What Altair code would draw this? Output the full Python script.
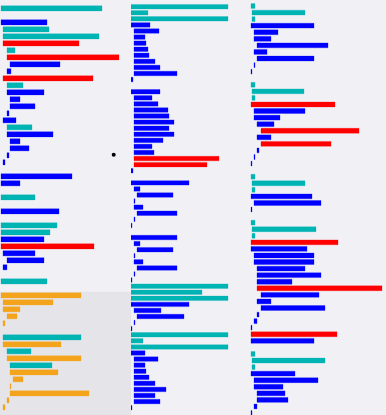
import altair as alt
import pandas as pd

# ---------------- data ----------------
# column 1 (left)
c1_row = [0, 2, 3, 4, 5, 6, 7, 8, 9, 10, 11, 12, 13, 14, 15, 16, 17, 18, 19, 20, 21, 22,
          24, 25, 27, 29, 31, 32, 33, 34, 35, 36, 37, 39,
          41, 42, 43, 44, 45, 47, 48, 49, 50, 51, 52, 53, 54, 55, 56, 57]
c1_start = [1, 1, 3, 3, 3, 7, 7, 10, 7, 3, 7, 7, 10, 10, 7, 3, 7, 7, 10, 10, 7, 3,
            1, 1, 1, 1, 1, 1, 1, 1, 3, 7, 3, 1,
            1, 3, 3, 7, 3, 3, 3, 7, 7, 10, 10, 13, 10, 10, 7, 3]
c1_end = [102, 47, 49, 99, 79, 15, 119, 60, 11, 93, 23, 44, 20, 35, 9, 16, 32, 53, 20, 29, 9, 5,
          72, 20, 35, 59, 57, 50, 44, 94, 35, 44, 7, 47,
          81, 53, 20, 17, 5, 81, 61, 31, 81, 52, 58, 23, 11, 89, 9, 5]
c1_cat = ["T", "B", "T", "T", "R", "T", "R", "B", "B", "R", "T", "B", "B", "B", "B", "B", "T", "B", "B", "B", "B", "B",
          "B", "B", "T", "B", "T", "T", "B", "R", "B", "B", "B", "T",
          "O", "O", "O", "O", "O", "T", "O", "T", "O", "T", "O", "O", "O", "O", "O", "O"]
c1_shaded_from = 41          # first row of the shaded lower section
c1_marker = {"row": 21, "x": 113.7}

# column 2 (middle)
c2_row = list(range(0, 13)) + list(range(14, 28)) + list(range(29, 37)) + list(range(38, 67))
c2_start = [0, 0, 0, 0, 3, 3, 3, 3, 3, 3, 3, 3, 0,
            0, 3, 3, 3, 3, 3, 3, 3, 3, 3, 3, 3, 3, 0,
            0, 3, 6, 3, 3, 6, 3, 0,
            0, 3, 6, 3, 3, 6, 3, 0,
            0, 0, 0, 0, 3, 6, 3, 0,
            0, 0, 0, 0, 3, 3, 3, 3, 3, 3, 3, 3, 0]
c2_end = [97, 17, 97, 19, 28, 14, 15, 17, 18, 24, 29, 46, 2,
          29, 21, 27, 37, 38, 43, 38, 43, 32, 21, 23, 88, 76, 2,
          58, 9, 42, 4, 12, 46, 4, 1,
          46, 9, 42, 4, 12, 46, 4, 1,
          97, 71, 97, 58, 30, 53, 4, 1,
          97, 12, 97, 14, 27, 14, 15, 18, 24, 35, 24, 29, 1]
c2_cat = ["T", "T", "T"] + ["B"] * 10 + \
         ["B"] * 11 + ["R", "R", "B"] + \
         ["B"] * 8 + ["B"] * 8 + \
         ["T", "T", "T"] + ["B"] * 5 + \
         ["T", "T", "T"] + ["B"] * 10

# column 3 (right)
c3_row = list(range(0, 11)) + list(range(12, 25)) + list(range(26, 32)) + list(range(33, 52)) + list(range(53, 63))
c3_start = [1, 2, 2, 1, 4, 4, 7, 4, 7, 4, 1,
            1, 2, 2, 1, 4, 4, 7, 11, 7, 11, 7, 4, 1,
            1, 2, 2, 1, 4, 1,
            1, 2, 2, 1, 1, 4, 4, 7, 7, 7, 7, 11, 7, 11, 7, 4, 1, 1, 1,
            1, 2, 2, 1, 4, 4, 7, 7, 4, 1]
c3_end = [5, 55, 5, 64, 28, 21, 78, 17, 64, 5, 2,
          5, 54, 5, 85, 55, 30, 24, 109, 21, 81, 9, 5, 2,
          5, 55, 5, 62, 71, 2,
          5, 66, 5, 88, 57, 64, 64, 55, 71, 42, 132, 69, 21, 75, 9, 7, 2, 87, 64,
          5, 75, 5, 45, 68, 33, 35, 38, 7, 2]
c3_cat = ["T", "T", "T"] + ["B"] * 8 + \
         ["T", "T", "T", "R", "B", "B", "B", "R", "B", "R", "B", "B", "B"] + \
         ["T", "T", "T", "B", "B", "B"] + \
         ["T", "T", "T", "R", "B", "B", "B", "B", "B", "B", "R", "B", "B", "B", "B", "B", "B", "R", "B"] + \
         ["T", "T", "T"] + ["B"] * 7

CAT_DOMAIN = ["T", "B", "R", "O"]
CAT_RANGE = ["#00b4b4", "#0000ff", "#ff0000", "#f4a41c"]

BG = "#f0f0f5"
SHADE = "#e4e4e9"
H = 415
HALF = 0.37


def panel(rows, starts, ends, cats, width, first_center, pitch, extra=None):
    df = pd.DataFrame({"row": rows, "start": starts, "end": ends, "cat": cats})
    d0 = -first_center / pitch
    d1 = d0 + H / pitch
    yscale = alt.Scale(domain=[d0, d1], reverse=True, nice=False, zero=False)
    xscale = alt.Scale(domain=[0, width], nice=False, zero=False)
    bars = alt.Chart(df).transform_calculate(
        y0=f"datum.row - {HALF}", y1=f"datum.row + {HALF}"
    ).mark_rect(strokeWidth=0.8, strokeOpacity=0.35, clip=True).encode(
        x=alt.X("start:Q", scale=xscale, axis=None),
        x2="end:Q",
        y=alt.Y("y0:Q", scale=yscale, axis=None),
        y2="y1:Q",
        color=alt.Color("cat:N", scale=alt.Scale(domain=CAT_DOMAIN, range=CAT_RANGE), legend=None),
        stroke=alt.Stroke("cat:N", scale=alt.Scale(domain=CAT_DOMAIN, range=CAT_RANGE), legend=None),
    )
    layers = []
    if extra is not None:
        layers.extend(extra(xscale, yscale, d1))
    layers.append(bars)
    return alt.layer(*layers).properties(width=width, height=H)


def col1_extra(xscale, yscale, d1):
    shade_df = pd.DataFrame({"from": [c1_shaded_from - 0.5], "to": [d1]})
    shade = alt.Chart(shade_df).mark_rect(color=SHADE, clip=True).encode(
        x=alt.value(0), x2=alt.value(131),
        y=alt.Y("from:Q", scale=yscale, axis=None), y2="to:Q",
    )
    dot_df = pd.DataFrame({"row": [c1_marker["row"] - 0.09], "x": [c1_marker["x"]]})
    dot = alt.Chart(dot_df).mark_circle(color="#000000", opacity=1, size=16).encode(
        x=alt.X("x:Q", scale=xscale, axis=None),
        y=alt.Y("row:Q", scale=yscale, axis=None),
    )
    return [shade, dot]


p1 = panel(c1_row, c1_start, c1_end, c1_cat, 131, 8.3, 7.0, extra=col1_extra)
p2 = panel(c2_row, c2_start, c2_end, c2_cat, 119, 6.7, 6.075)
p3 = panel(c3_row, c3_start, c3_end, c3_cat, 136, 6.0, 6.565)

chart = alt.hconcat(p1, p2, p3, spacing=0).resolve_scale(
    x="independent", y="independent", color="shared"
).properties(padding=0, background=BG).configure_view(stroke=None, fill=BG)

chart.save("out.html", embed_options={"renderer": "svg", "actions": False})
